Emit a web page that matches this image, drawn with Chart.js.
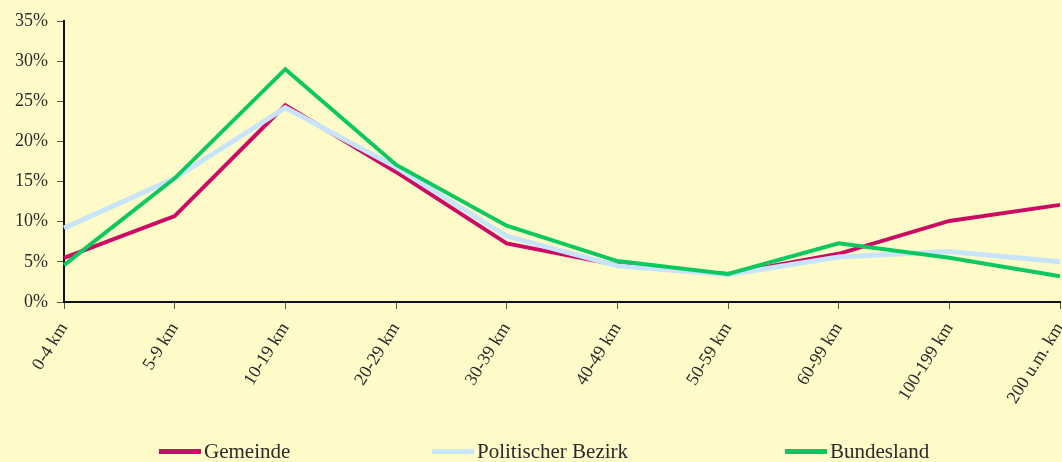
<!DOCTYPE html>
<html>
<head>
<meta charset="utf-8">
<script src="https://cdn.jsdelivr.net/npm/chart.js@4/dist/chart.umd.min.js"></script>
<style>
  html, body { margin: 0; padding: 0; background: #fffbc9; }
  #wrap { position: relative; width: 1062px; height: 462px; overflow: hidden; background: #fffbc9; }
  #wrap canvas { position: absolute; left: 0; top: 0; }
  #legend { position: absolute; left: 0; top: 438px; width: 1062px; height: 26px;
    font-family: "Liberation Serif", serif; font-size: 21px; color: #2a2a2a; }
  .item { position: absolute; top: 0; height: 26px; display: flex; align-items: center; white-space: nowrap; }
  .item .mark { display: inline-block; width: 42px; height: 5px; margin-right: 3px; }
  .item:nth-child(1) { left: 159px; }
  .item:nth-child(2) { left: 432px; }
  .item:nth-child(3) { left: 785px; }
</style>
</head>
<body>
<div id="wrap">
  <canvas id="distChart" width="1062" height="462"></canvas>
  <div id="legend"></div>
</div>
<script>
const categories = ["0-4 km", "5-9 km", "10-19 km", "20-29 km", "30-39 km", "40-49 km", "50-59 km", "60-99 km", "100-199 km", "200 u.m. km"];
const seriesNames = ["Gemeinde", "Politischer Bezirk", "Bundesland"];
const gemeinde = [5.5, 10.7, 24.5, 16.2, 7.3, 4.6, 3.5, 6.0, 10.1, 12.1];
const bezirk = [9.2, 15.4, 24.2, 16.8, 8.2, 4.5, 3.4, 5.6, 6.3, 5.0];
const bundesland = [4.6, 15.4, 29.0, 17.1, 9.5, 5.1, 3.5, 7.3, 5.5, 3.2];
const colors = ["#cc0a64", "#c8e4fa", "#0cc860"];

const font = { family: "'Liberation Serif', serif", size: 18 };

const ctx = document.getElementById("distChart").getContext("2d");
const chart = new Chart(ctx, {
  type: "line",
  data: {
    labels: categories,
    datasets: [
      { label: seriesNames[0], data: gemeinde, borderColor: colors[0], borderWidth: 4, order: 2 },
      { label: seriesNames[1], data: bezirk, borderColor: colors[1], borderWidth: 5, order: 1 },
      { label: seriesNames[2], data: bundesland, borderColor: colors[2], borderWidth: 4, order: 0 },
    ],
  },
  options: {
    responsive: false,
    animation: false,
    elements: { point: { radius: 0 }, line: { tension: 0 } },
    layout: { padding: { top: 21, right: 2, left: 0, bottom: 0 } },
    plugins: { legend: { display: false }, tooltip: { enabled: false } },
    scales: {
      x: {
        offset: false,
        grid: { drawOnChartArea: false, color: "#555", tickLength: 7 },
        border: { color: "#111", width: 2 },
        ticks: { font: font, color: "#2a2a2a", minRotation: 58, maxRotation: 58, padding: 10, autoSkip: false },
        afterFit: function (scale) {
          scale.height = 160;
          scale.paddingRight = 0;
        },
      },
      y: {
        min: 0,
        max: 35,
        grid: { drawOnChartArea: false, color: "#555", tickLength: 7 },
        border: { color: "#111", width: 2 },
        ticks: {
          stepSize: 5,
          font: font,
          color: "#2a2a2a",
          padding: 9,
          callback: function (v) { return v + "%"; },
        },
        afterFit: function (scale) {
          scale.width = 64;
        },
      },
    },
  },
});

// legend built from the datasets
const legend = document.getElementById("legend");
chart.data.datasets.forEach(function (ds) {
  const item = document.createElement("div");
  item.className = "item";
  const mark = document.createElement("span");
  mark.className = "mark";
  mark.style.background = ds.borderColor;
  item.appendChild(mark);
  item.appendChild(document.createTextNode(ds.label));
  legend.appendChild(item);
});
</script>
</body>
</html>
